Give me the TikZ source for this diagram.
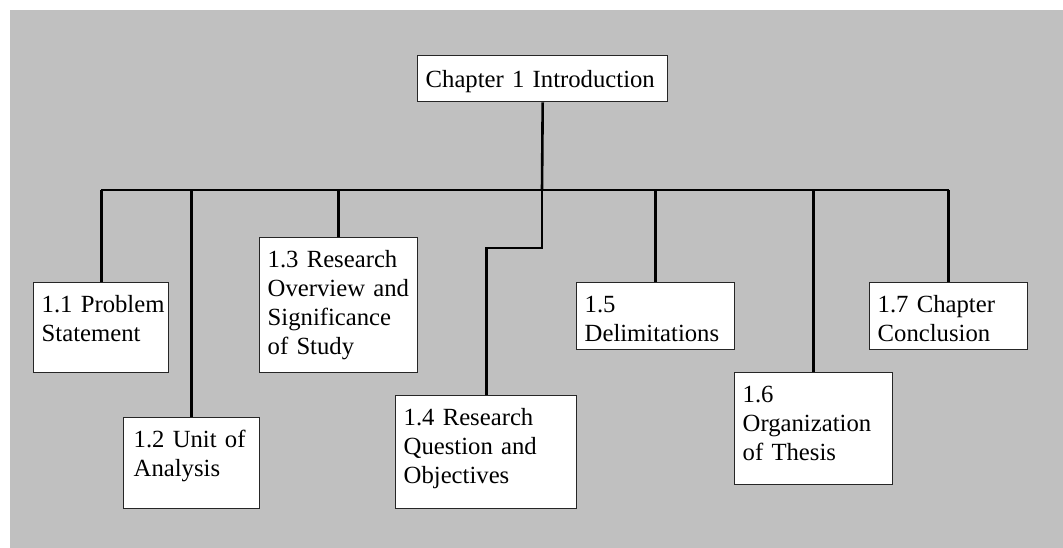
\documentclass[tikz,border=0pt]{standalone}
\usepackage{fontspec}
\setmainfont{Liberation Serif}
\definecolor{fondgris}{HTML}{C0C0C0}
\definecolor{bordsombre}{HTML}{262626}

\begin{document}
\begin{tikzpicture}[x=1pt, y=-1pt,
    font=\fontsize{24.7}{29}\selectfont,
    sect/.style={draw=bordsombre, line width=1.4pt, fill=white, anchor=north west,
      align=left, inner xsep=8pt, inner ysep=0pt, text height=30pt},
    link/.style={line width=2.6pt, black}
  ]
    % Fond
    \useasboundingbox (0,0) rectangle (1063,548);
    \fill[fondgris] (10,10) rectangle (1063,548);
    % Chapitre
    \node[sect, text width=234pt, text height=32pt, text depth=14pt] (intro) at (417,55)
      {Chapter 1 Introduction};
    % Sections
    \node[sect, text width=119pt, text depth=60pt] (s11) at (33,282)
      {\mbox{1.1 Problem}\\Statement};
    \node[sect, inner xsep=10pt, text width=116pt, text depth=61pt] (s12) at (123,417)
      {1.2 Unit of\\Analysis};
    \node[sect, text width=142pt, text depth=105pt] (s13) at (259,237)
      {1.3 Research\\\mbox{Overview and}\\Significance\\of Study};
    \node[sect, text width=165pt, text depth=83pt] (s14) at (395,395)
      {1.4 Research\\Question and\\Objectives};
    \node[sect, text width=142pt, text depth=37pt] (s15) at (576,282)
      {1.5\\Delimitations};
    \node[sect, text width=142pt, text depth=82pt] (s16) at (734,372)
      {1.6\\Organization\\of Thesis};
    \node[sect, text width=142pt, text depth=37pt] (s17) at (869,282)
      {1.7 Chapter\\Conclusion};
    % Liaisons
    \coordinate (bus) at (542,190);
    \coordinate (pas) at (542,248);
    \draw[link] (intro.south) -- (bus);
    \draw[link] (s11.north |- bus) -- (s17.north |- bus);
    \foreach \s in {s11,s12,s13,s15,s16,s17}
      \draw[link] (\s.north) -- (\s.north |- bus);
    \draw[link] (bus) -- (pas) -| (s14.north);
  \end{tikzpicture}
\end{document}
